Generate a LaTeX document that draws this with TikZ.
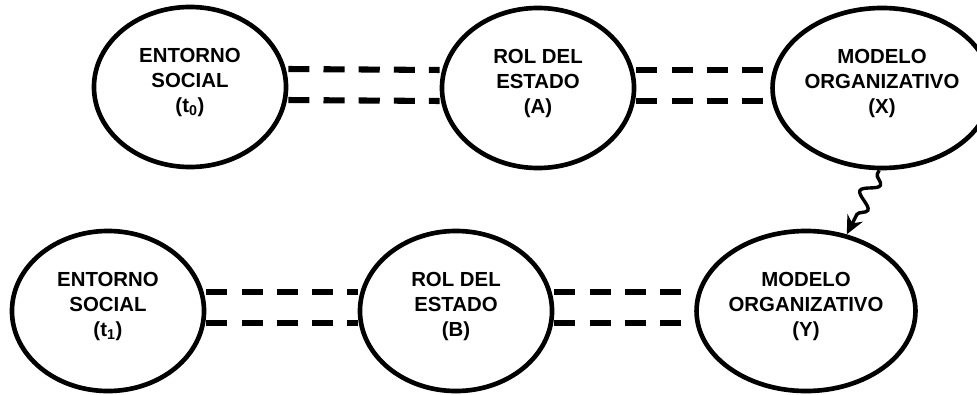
\documentclass[tikz,border=0pt]{standalone}
\usepackage{fontspec}
\setmainfont{Liberation Sans}
\usetikzlibrary{shapes.geometric,arrows.meta,decorations.pathmorphing}

\begin{document}
\begin{tikzpicture}[x=0.025cm,y=-0.025cm,
    estado/.style={shape=ellipse, draw=black, line width=3.3pt, fill=white, minimum width=4.8cm, minimum height=4cm, inner sep=0pt, align=center, text depth=9pt, font=\bfseries\fontsize{14.5}{17.8}\selectfont},
    enlace/.style={line width=4.3pt, dash pattern=on 15pt off 10pt}]
    \useasboundingbox (0,0) rectangle (977,394);

    \node[estado] (ent0) at (190,87) {ENTORNO\\SOCIAL\\(t\textsubscript{0})};
    \node[estado] (rolA) at (538,88) {ROL DEL\\ESTADO\\(A)};
    \node[estado] (modX) at (882,88) {MODELO\\ORGANIZATIVO\\(X)};
    \node[estado] (ent1) at (108,311) {ENTORNO\\SOCIAL\\(t\textsubscript{1})};
    \node[estado] (rolB) at (456,311) {ROL DEL\\ESTADO\\(B)};
    \node[estado] (modY) at (806,311) {MODELO\\ORGANIZATIVO\\(Y)};

    \draw[enlace] ([yshift=0.45cm]ent0.east) -- ([yshift=0.45cm]rolA.west);
    \draw[enlace] ([yshift=-0.325cm]ent0.east) -- ([yshift=-0.325cm]rolA.west);
    \draw[enlace] ([yshift=0.45cm]rolA.east) -- ([yshift=0.45cm]modX.west);
    \draw[enlace] ([yshift=-0.325cm]rolA.east) -- ([yshift=-0.325cm]modX.west);

    \draw[enlace] ([yshift=0.475cm]ent1.east) -- ([yshift=0.475cm]rolB.west);
    \draw[enlace] ([yshift=-0.3cm]ent1.east) -- ([yshift=-0.3cm]rolB.west);
    \draw[enlace] ([yshift=0.475cm]rolB.east) -- ([yshift=0.475cm]modY.west);
    \draw[enlace] ([yshift=-0.3cm]rolB.east) -- ([yshift=-0.3cm]modY.west);

    \draw[line width=2.4pt, -{Stealth[length=13pt,width=12pt]}, decorate,
        decoration={snake, amplitude=2mm, segment length=7mm, pre length=1mm, post length=3mm}]
        (modX.268) -- (modY.62);
\end{tikzpicture}
\end{document}
